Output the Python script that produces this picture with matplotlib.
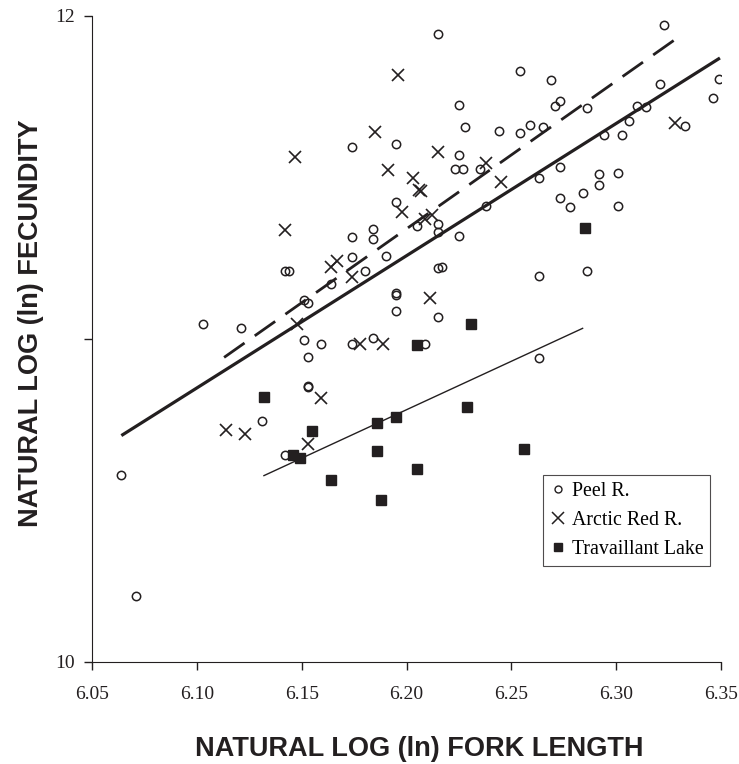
import numpy as np
import matplotlib.pyplot as plt
from matplotlib.lines import Line2D

# Peel R. (open circles)
peel_x = [6.215, 6.323, 6.254, 6.269, 6.349, 6.321, 6.346, 6.273, 6.271, 6.225,
          6.286, 6.310, 6.314, 6.306, 6.333, 6.228, 6.244, 6.254, 6.259, 6.265,
          6.294, 6.303, 6.174, 6.195, 6.225, 6.223, 6.227, 6.235, 6.273, 6.263,
          6.292, 6.301, 6.292, 6.284, 6.273, 6.278, 6.301, 6.238, 6.195, 6.205,
          6.215, 6.215, 6.184, 6.184, 6.190, 6.225, 6.174, 6.174, 6.142, 6.144,
          6.180, 6.164, 6.151, 6.153, 6.215, 6.217, 6.263, 6.286, 6.195, 6.195,
          6.195, 6.215, 6.184, 6.209, 6.263, 6.103, 6.121, 6.151, 6.159, 6.153,
          6.174, 6.153, 6.153, 6.131, 6.142, 6.064, 6.071]
peel_y = [11.944, 11.972, 11.829, 11.802, 11.805, 11.789, 11.746, 11.736, 11.721, 11.724,
          11.715, 11.721, 11.718, 11.674, 11.659, 11.656, 11.643, 11.637, 11.662, 11.656,
          11.631, 11.631, 11.594, 11.603, 11.569, 11.526, 11.526, 11.526, 11.532, 11.498,
          11.510, 11.513, 11.476, 11.451, 11.436, 11.408, 11.411, 11.411, 11.423, 11.349,
          11.355, 11.330, 11.340, 11.309, 11.256, 11.318, 11.315, 11.253, 11.209, 11.209,
          11.209, 11.169, 11.122, 11.113, 11.219, 11.222, 11.194, 11.209, 11.141, 11.135,
          11.088, 11.067, 11.002, 10.986, 10.940, 11.045, 11.033, 10.998, 10.986, 10.943,
          10.986, 10.856, 10.850, 10.747, 10.642, 10.580, 10.205]

# Arctic Red R. (crosses)
arctic_x = [6.147, 6.196, 6.185, 6.215, 6.191, 6.203, 6.206, 6.207, 6.238, 6.245,
            6.198, 6.209, 6.212, 6.328, 6.211, 6.189, 6.178, 6.142, 6.164, 6.167,
            6.174, 6.148, 6.159, 6.114, 6.123, 6.153]
arctic_y = [11.563, 11.817, 11.640, 11.578, 11.523, 11.498, 11.460, 11.457, 11.544, 11.485,
            11.392, 11.371, 11.383, 11.668, 11.126, 10.986, 10.986, 11.336, 11.222, 11.243,
            11.191, 11.045, 10.816, 10.719, 10.707, 10.676]

# Travaillant Lake (filled squares)
trav_x = [6.132, 6.155, 6.146, 6.149, 6.164, 6.186, 6.195, 6.186, 6.188, 6.205,
          6.205, 6.231, 6.229, 6.256, 6.285]
trav_y = [10.819, 10.716, 10.642, 10.633, 10.564, 10.741, 10.760, 10.654, 10.502, 10.598,
          10.980, 11.045, 10.791, 10.660, 11.343]

# regression lines (end points)
peel_fit_x = [6.064, 6.3495]
peel_fit_y = [10.701, 11.870]
arctic_fit_x = [6.113, 6.3285]
arctic_fit_y = [10.943, 11.929]
trav_fit_x = [6.132, 6.284]
trav_fit_y = [10.577, 11.033]

ink = '#231f20'
serif = ['Liberation Serif', 'DejaVu Serif']
sans = ['Liberation Sans', 'DejaVu Sans']

fig = plt.figure(figsize=(7.39, 7.64), dpi=100)
ax = fig.add_axes([92/739, 1-662/764, (721-92)/739, (662-16)/764])

ax.plot(peel_fit_x, peel_fit_y, color=ink, lw=2.3, solid_capstyle='butt')
ax.plot(arctic_fit_x, arctic_fit_y, color=ink, lw=2.0, dashes=(9, 4.5))
ax.plot(trav_fit_x, trav_fit_y, color=ink, lw=1.0)

ax.plot(peel_x, peel_y, 'o', mfc='none', mec=ink, ms=6, mew=1.1, ls='none')
ax.plot(arctic_x, arctic_y, 'x', color=ink, ms=9, mew=1.2, ls='none')
ax.plot(trav_x, trav_y, 's', color=ink, ms=6.5, ls='none')

ax.set_xlim(6.05, 6.35)
ax.set_ylim(10, 12)
ax.set_xticks([6.05, 6.10, 6.15, 6.20, 6.25, 6.30, 6.35])
ax.set_xticklabels(['6.05', '6.10', '6.15', '6.20', '6.25', '6.30', '6.35'])
ax.set_yticks([10, 11, 12])
ax.set_yticklabels(['10', '', '12'])
for lab in ax.get_xticklabels() + ax.get_yticklabels():
    lab.set_family(serif)
    lab.set_fontsize(14)
    lab.set_color(ink)
ax.tick_params(direction='out', length=6, width=1, color=ink)
ax.tick_params(axis='x', pad=11)
ax.tick_params(axis='y', pad=6)

ax.spines['top'].set_visible(False)
ax.spines['right'].set_visible(False)
ax.spines['left'].set_color(ink)
ax.spines['bottom'].set_color(ink)

ax.set_xlabel('NATURAL LOG (ln) FORK LENGTH', family=sans, fontsize=19.5,
              fontweight='bold', color=ink)
ax.xaxis.set_label_coords(0.521, -0.114)
ax.set_ylabel('NATURAL LOG (ln) FECUNDITY', family=sans, fontsize=19.5,
              fontweight='bold', color=ink)
ax.yaxis.set_label_coords(-0.076, 0.525)

handles = [
    Line2D([], [], marker='o', mfc='none', mec=ink, ms=5, mew=1.0, ls='none'),
    Line2D([], [], marker='x', color=ink, ms=8, mew=1.1, ls='none'),
    Line2D([], [], marker='s', color=ink, ms=5.5, ls='none'),
]
leg = ax.legend(handles, ['Peel R.', 'Arctic Red R.', 'Travaillant Lake'],
                loc='lower left', bbox_to_anchor=(0.717, 0.149), borderaxespad=0,
                prop={'family': serif, 'size': 14.3}, frameon=True, fancybox=False,
                handlelength=0.8, handletextpad=0.3, labelspacing=0.5,
                borderpad=0.35, edgecolor=ink)
leg.get_frame().set_linewidth(0.8)

fig.savefig('out.png', dpi=100)
